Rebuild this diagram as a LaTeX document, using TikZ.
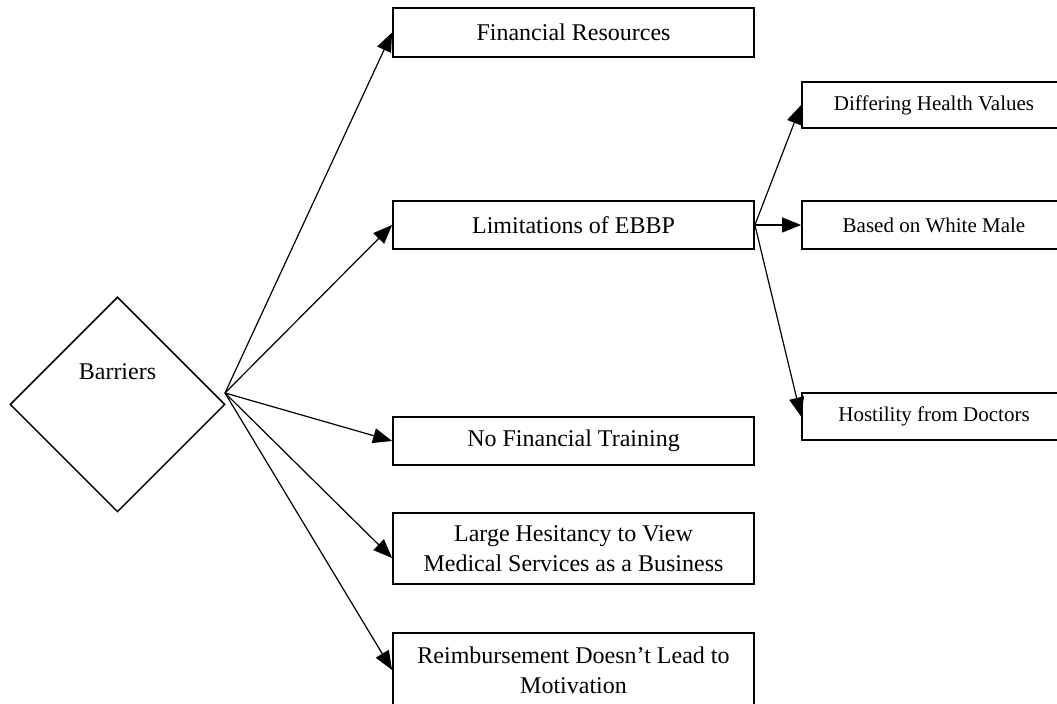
\documentclass[tikz,border=0pt]{standalone}
\usepackage{fontspec}
\setmainfont{Liberation Serif}
\usetikzlibrary{shapes.geometric,arrows.meta}

\begin{document}
\begin{tikzpicture}[x=0.5pt,y=-0.5pt,
  box/.style={draw,line width=0.9pt,inner sep=0pt,align=center,
    minimum width=180.5pt,font=\fontsize{12}{15}\selectfont},
  subbox/.style={box,minimum width=132pt,font=\fontsize{10.5}{13}\selectfont},
  arr/.style={line width=0.6pt,-{Triangle[length=9.5pt,width=7.5pt]}}]
  \useasboundingbox (0,0) rectangle (1057,704);
  \clip (0,0) rectangle (1057,704);
  % root
  \node[draw,diamond,aspect=1,minimum size=107.5pt,inner sep=0pt,line width=0.75pt,
    label={[yshift=16.5pt,font=\fontsize{12}{15}\selectfont]center:Barriers}] (bar) at (117.5,404.5) {};
  \coordinate (fork) at (225,393);
  % barriers
  \node[box,minimum height=24.5pt] (fin) at (573.5,32.5) {Financial Resources};
  \node[box,minimum height=24pt] (ebbp) at (573.5,225) {Limitations of EBBP};
  \node[box,minimum height=24pt] (train) at (573.5,441) {No Financial Training};
  \node[box,minimum height=35.5pt] (hes) at (573.5,548.5) {Large Hesitancy to View\\Medical Services as a Business};
  \node[box,minimum height=37pt] (reimb) at (573.5,670) {Reimbursement Doesn’t Lead to\\Motivation};
  % limitations
  \node[subbox,minimum height=23pt] (diff) at (934,105) {Differing Health Values};
  \node[subbox,minimum height=24pt] (white) at (934,225) {Based on White Male};
  \node[subbox,minimum height=23.5pt] (host) at (934,416.5) {Hostility from Doctors};
  \draw[arr] (fork) -- (fin.west);
  \draw[arr] (fork) -- (ebbp.west);
  \draw[arr] (fork) -- (train.west);
  \draw[arr] (fork) -- (hes.183);
  \draw[arr] (fork) -- (reimb.west);
  \draw[arr] (ebbp.east) -- (diff.west);
  \draw[arr] (ebbp.east) -- (white.west);
  \draw[arr] (ebbp.east) -- (host.west);
\end{tikzpicture}
\end{document}
